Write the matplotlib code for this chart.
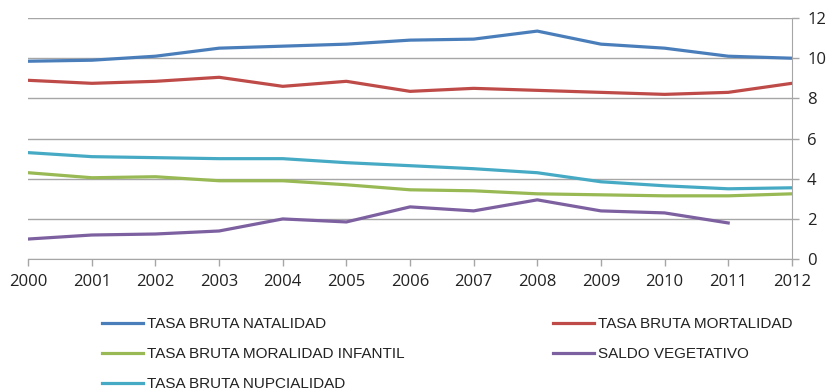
import matplotlib.pyplot as plt

# datos
years = list(range(2000, 2013))
natalidad = [9.85, 9.9, 10.1, 10.5, 10.6, 10.7, 10.9, 10.95, 11.35, 10.7, 10.5, 10.1, 10.0]
mortalidad = [8.9, 8.75, 8.85, 9.05, 8.6, 8.85, 8.35, 8.5, 8.4, 8.3, 8.2, 8.3, 8.75]
infantil = [4.3, 4.05, 4.1, 3.9, 3.9, 3.7, 3.45, 3.4, 3.25, 3.2, 3.15, 3.15, 3.25]
saldo = [1.0, 1.2, 1.25, 1.4, 2.0, 1.85, 2.6, 2.4, 2.95, 2.4, 2.3, 1.8]
nupcialidad = [5.3, 5.1, 5.05, 5.0, 5.0, 4.8, 4.65, 4.5, 4.3, 3.85, 3.65, 3.5, 3.55]

labels = ["TASA BRUTA NATALIDAD", "TASA BRUTA MORTALIDAD",
          "TASA BRUTA MORALIDAD INFANTIL", "SALDO VEGETATIVO",
          "TASA BRUTA NUPCIALIDAD"]
colores = ["#4A7EBB", "#BE4B48", "#98B954", "#7D60A0", "#46AAC5"]

fig = plt.figure(figsize=(8.3, 3.92), dpi=100)
ax = fig.add_axes([0.034, 0.339, 0.920, 0.615])

lw = 2.3
l_nat, = ax.plot(years, natalidad, color=colores[0], lw=lw)
l_mor, = ax.plot(years, mortalidad, color=colores[1], lw=lw)
l_inf, = ax.plot(years, infantil, color=colores[2], lw=lw)
l_sal, = ax.plot(years[:len(saldo)], saldo, color=colores[3], lw=lw)
l_nup, = ax.plot(years, nupcialidad, color=colores[4], lw=lw)

ax.set_xlim(2000, 2012)
ax.set_ylim(0, 12)
ax.set_xticks(years)
ax.set_yticks(range(0, 13, 2))
ax.yaxis.tick_right()
ax.grid(axis='y', color='#A6A6A6', lw=1)
ax.set_axisbelow(True)
for s in ['top', 'left']:
    ax.spines[s].set_visible(False)
for s in ['bottom', 'right']:
    ax.spines[s].set_color('#A6A6A6')
ax.tick_params(axis='both', colors='#A6A6A6', labelcolor='#222222',
               labelsize=12, length=5, width=1)
ax.tick_params(axis='x', pad=6)
ax.tick_params(axis='y', pad=6)
for t in ax.get_xticklabels() + ax.get_yticklabels():
    t.set_family(['Open Sans', 'DejaVu Sans'])

# leyenda en dos bloques
leg_kw = dict(loc='upper left', frameon=False,
              prop={'family': ['Liberation Sans', 'DejaVu Sans'], 'size': 11},
              handlelength=2.7, handletextpad=0.25,
              labelspacing=1.05, borderaxespad=0, borderpad=0)
for t in fig.legend([l_nat, l_inf, l_nup], [labels[0], labels[2], labels[4]],
                    bbox_to_anchor=(0.123, 0.191), **leg_kw).get_texts():
    t.set_color('#222222')
for t in fig.legend([l_mor, l_sal], [labels[1], labels[3]],
                    bbox_to_anchor=(0.666, 0.191), **leg_kw).get_texts():
    t.set_color('#222222')

fig.savefig('out.png', dpi=100)
